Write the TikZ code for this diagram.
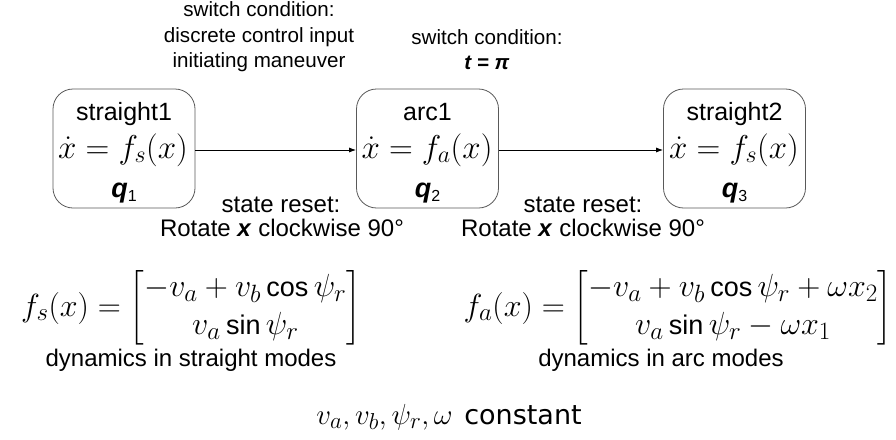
\RequirePackage{fix-cm}
\documentclass[tikz,border=0pt]{standalone}
\usepackage{amsmath}
\usepackage[no-math]{fontspec}
\setmainfont{Liberation Sans}
\newfontfamily\dvfont{DejaVu Sans}
\usetikzlibrary{arrows.meta}
\DeclareMathSizes{32}{32}{25}{19}
\DeclareMathSizes{33}{33}{24}{18}
\DeclareMathSizes{29}{29}{23}{18}
\newcommand{\mycos}{\mathop{\text{\fontsize{27}{30}\selectfont cos}}\nolimits}
\newcommand{\mysin}{\mathop{\text{\fontsize{27}{30}\selectfont sin}}\nolimits}
\newcommand{\qsub}[1]{\textbf{\textit{q}}\raisebox{-4pt}{\fontsize{16}{16}\selectfont #1}}
\begin{document}
\begin{tikzpicture}[x=1pt,y=-1pt,
  mode/.style={draw=black!65,line width=0.8pt,rounded corners=20pt,minimum width=142pt,minimum height=119pt,inner sep=0pt},
  mname/.style={anchor=base,inner sep=0pt,font=\fontsize{25}{30}\selectfont},
  mdyn/.style={anchor=base,inner sep=0pt,font=\fontsize{33}{40}\selectfont},
  mq/.style={anchor=base,inner sep=0pt,font=\fontsize{27}{32}\selectfont},
  toplab/.style={align=center,inner sep=0pt,font=\fontsize{20.6}{25.5}\selectfont},
  lab/.style={anchor=base,inner sep=0pt,font=\fontsize{24}{29}\selectfont},
  eqn/.style={inner sep=0pt,font=\fontsize{32}{38}\selectfont},
  trans/.style={line width=0.8pt,-{Latex[length=7pt,width=5pt]}}
]
\useasboundingbox (0,0) rectangle (896,439);
% mode boxes
\node[mode] (b1) at (124,148.5) {};
\node[mode] (b2) at (427.5,148.5) {};
\node[mode] (b3) at (734.5,148.5) {};
% box contents
\node[mname] (n1) at (124,120) {straight1};
\node[mdyn] (d1) at (123,158) {$\dot{x}=f_s(x)$};
\node[mq] (q1) at (124,197) {\qsub{1}};
\node[mname] (n2) at (427.5,120) {arc1};
\node[mdyn] (d2) at (427,158) {$\dot{x}=f_a(x)$};
\node[mq] (q2) at (427.5,197) {\qsub{2}};
\node[mname] (n3) at (734.5,120) {straight2};
\node[mdyn] (d3) at (734,158) {$\dot{x}=f_s(x)$};
\node[mq] (q3) at (734.5,197) {\qsub{3}};
% transitions
\draw[trans] (b1.east |- 0,150) coordinate (a1) -- (b2.west |- a1);
\draw[trans] (b2.east |- 0,150) coordinate (a2) -- (b3.west |- a2);
% switch conditions
\node[toplab] (s1) at (259,37) {switch condition:\\discrete control input\\initiating maneuver};
\node[toplab] (s2) at (487,49.5) {switch condition:\\\textbf{\textit{t = π}}};
% state resets
\node[lab] (r1a) at (281,212) {state reset:};
\node[lab] (r1b) at (282,236) {Rotate \textbf{\textit{x}} clockwise 90°};
\node[lab] (r2a) at (583,212) {state reset:};
\node[lab] (r2b) at (583,236) {Rotate \textbf{\textit{x}} clockwise 90°};
% equations
\node[eqn] (fs) at (191,308) {$f_s(x)=\begin{bmatrix}-v_a+v_b\mycos\psi_r\\ v_a\mysin\psi_r\end{bmatrix}$};
\node[eqn] (fa) at (678,308) {$f_a(x)=\begin{bmatrix}-v_a+v_b\mycos\psi_r+\omega x_2\\ v_a\mysin\psi_r-\omega x_1\end{bmatrix}$};
\node[lab] (ds) at (191,366) {dynamics in straight modes};
\node[lab] (da) at (661,366) {dynamics in arc modes};
\node[anchor=base,inner sep=0pt,font=\fontsize{29}{34}\selectfont] (cst) at (449,424) {$v_a,v_b,\psi_r,\omega$\hspace{0.4em}{\dvfont\fontsize{27}{32}\selectfont constant}};
\end{tikzpicture}
\end{document}
